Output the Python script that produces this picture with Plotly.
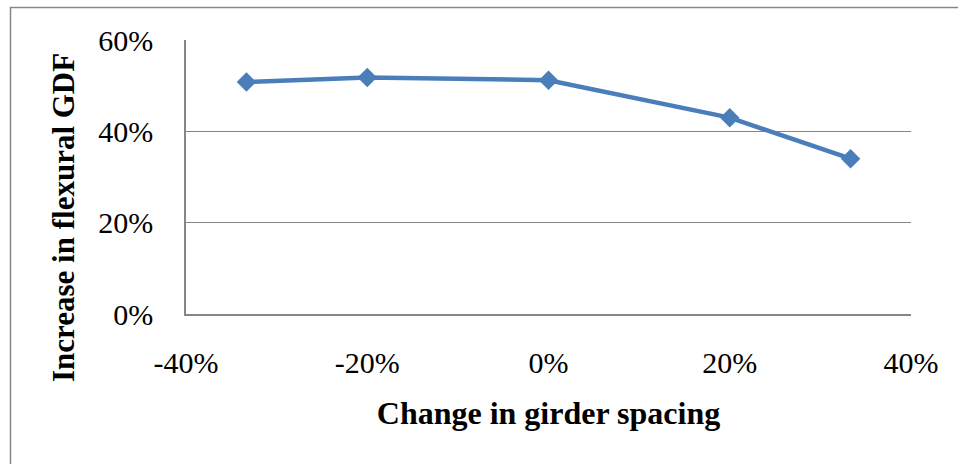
import plotly.graph_objects as go

# Change in girder spacing vs. increase in flexural GDF
spacing_change = [-1/3, -0.20, 0.0, 0.20, 1/3]
gdf_increase = [0.508, 0.518, 0.512, 0.430, 0.340]

x_tick_vals = [-0.4, -0.2, 0.0, 0.2, 0.4]
x_tick_text = ["-40%", "-20%", "0%", "20%", "40%"]
y_tick_vals = [0.0, 0.2, 0.4, 0.6]
y_tick_text = ["0%", "20%", "40%", "60%"]

W, H = 958, 464
ML, MR, MT, MB = 186, 47, 40, 150
PW, PH = W - ML - MR, H - MT - MB

GRID = "#868686"
BLUE = "#4A7EBB"
FONT = "Liberation Serif, Times New Roman, serif"

fig = go.Figure()
fig.add_trace(go.Scatter(
    x=spacing_change, y=gdf_increase,
    mode="lines+markers",
    line=dict(color=BLUE, width=4.5),
    marker=dict(symbol="diamond", size=15, color=BLUE),
    showlegend=False,
    hoverinfo="skip",
))

# outer chart frame (left and top edges visible, rest runs off the page)
fig.add_shape(
    type="rect", xref="paper", yref="paper",
    x0=(10.5 - ML) / PW, x1=1.2,
    y0=-0.8, y1=1 + (MT - 7.5) / PH,
    line=dict(color=GRID, width=1.5), layer="below",
)

# vertical axis title, placed by pixel position relative to the plot area
fig.add_annotation(
    text="<b>Increase in flexural GDF</b>",
    xref="paper", yref="paper",
    x=(63 - ML) / PW, y=1 - (218 - MT) / PH,
    xanchor="center", yanchor="middle",
    textangle=-90, showarrow=False,
    font=dict(size=31, family=FONT, color="black"),
)

fig.update_layout(
    width=W, height=H,
    margin=dict(l=ML, r=MR, t=MT, b=MB),
    paper_bgcolor="white", plot_bgcolor="white",
    font=dict(family=FONT, color="black"),
    xaxis=dict(
        range=[-0.4, 0.4],
        tickvals=x_tick_vals, ticktext=x_tick_text,
        tickfont=dict(size=30),
        showgrid=False, zeroline=False,
        showline=True, linecolor=GRID, linewidth=1.5,
        ticks="", ticklabelstandoff=21,
        title=dict(text="<b>Change in girder spacing</b>",
                   font=dict(size=32), standoff=24),
    ),
    yaxis=dict(
        range=[0, 0.6],
        tickvals=y_tick_vals, ticktext=y_tick_text,
        tickfont=dict(size=30),
        showgrid=True, gridcolor=GRID, gridwidth=1.3,
        zeroline=False,
        showline=True, linecolor=GRID, linewidth=1.5,
        ticks="", ticklabelstandoff=25,
    ),
)

fig.write_html("out.html")
